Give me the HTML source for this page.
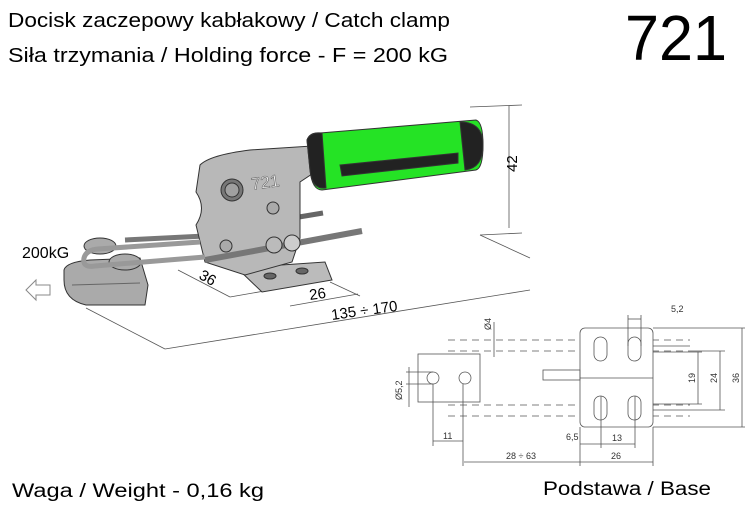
<!DOCTYPE html>
<html><head><style>
html,body{margin:0;padding:0;background:#fff;}
svg{display:block;font-family:"Liberation Sans",sans-serif;}
</style></head><body>
<svg width="750" height="517" viewBox="0 0 750 517" xmlns="http://www.w3.org/2000/svg">
<rect width="750" height="517" fill="#fff"/>
<text x="8" y="27" font-size="20" textLength="442" lengthAdjust="spacingAndGlyphs">Docisk zaczepowy kabłakowy / Catch clamp</text>
<text x="8" y="62" font-size="20" textLength="440" lengthAdjust="spacingAndGlyphs">Siła trzymania / Holding force - F = 200 kG</text>
<text x="625" y="60" font-size="64" textLength="102" lengthAdjust="spacingAndGlyphs">721</text>

<g stroke="#555" stroke-width="0.8" fill="none">
<line x1="470" y1="107" x2="522" y2="105"/>
<line x1="480" y1="235" x2="522" y2="233"/>
<line x1="509" y1="106" x2="509" y2="228"/>
<line x1="480" y1="235" x2="530" y2="258"/>
<line x1="165" y1="349" x2="530" y2="290"/>
<line x1="86" y1="308" x2="165" y2="349"/>
<line x1="178" y1="270" x2="230" y2="297"/>
<line x1="230" y1="297" x2="270" y2="290"/>
<line x1="330" y1="282" x2="360" y2="296"/>
<line x1="290" y1="306" x2="358" y2="294"/>
</g>
<text x="517" y="172" font-size="15" transform="rotate(-90 517 172)">42</text>
<text x="198" y="278" font-size="15" transform="rotate(30 198 278)">36</text>
<text x="310" y="300" font-size="15" transform="rotate(-8 310 300)">26</text>
<text x="332" y="320" font-size="15" transform="rotate(-8 332 320)">135 ÷ 170</text>
<text x="22" y="258" font-size="16">200kG</text>
<path d="M26 290 L36 280 L36 285 L50 285 L50 295 L36 295 L36 300 Z" fill="#fff" stroke="#888"/>

<g stroke="#333" stroke-width="1">
<!-- rods behind -->
<line x1="293" y1="218" x2="323" y2="213" stroke="#666" stroke-width="5"/>
<path d="M125 240 L205 236" fill="none" stroke="#777" stroke-width="5"/>
<!-- base foot -->
<path d="M237 268 L325 262 L332 280 L262 292 Z" fill="#bbb"/>
<ellipse cx="270" cy="276" rx="6" ry="3" fill="#666"/>
<ellipse cx="302" cy="271" rx="6" ry="3" fill="#666"/>
<!-- body -->
<path d="M200 165 Q210 155 250 150 L312 146 L318 170 L300 182 L300 238 L292 262 L245 275 L205 262 L196 225 Q207 208 196 192 Z" fill="#b8b8b8"/>
<circle cx="232" cy="190" r="11" fill="#777"/>
<circle cx="232" cy="190" r="7" fill="#a0a0a0"/>
<circle cx="273" cy="208" r="6" fill="#aaa"/>
<circle cx="226" cy="246" r="6" fill="#aaa"/>
<!-- handle -->
<path d="M307 140 Q310 132 320 133 L476 120 Q483 122 483 145 Q483 168 476 170 L322 190 Q312 190 310 170 Z" fill="#25e325"/>
<path d="M340 165 L458 153 L458 163 L342 176 Z" fill="#222"/>
<path d="M460 122 Q483 122 483 145 Q483 168 465 170 Z" fill="#222"/>
<path d="M307 140 Q310 132 322 133 L326 188 Q312 190 310 170 Z" fill="#222"/>
<!-- latch hook -->
<path d="M64 270 Q66 262 90 260 L140 258 L148 285 L145 305 L86 305 Q64 300 64 280 Z" fill="#aaa"/>
<path d="M72 285 L140 283" stroke="#666" fill="none"/>
<ellipse cx="100" cy="246" rx="16" ry="8" fill="#aaa"/>
<ellipse cx="125" cy="262" rx="16" ry="8" fill="#aaa"/>
<!-- threaded rod -->
<line x1="205" y1="260" x2="362" y2="231" stroke="#777" stroke-width="6"/>
<!-- bail -->
<path d="M205 257 L95 266 Q82 268 84 258 Q86 250 98 249 L200 242" fill="none" stroke="#999" stroke-width="5"/>
<circle cx="292" cy="243" r="8" fill="#ccc"/>
<circle cx="274" cy="245" r="8" fill="#bbb"/>
</g>
<text x="252" y="190" font-size="17" fill="#fff" stroke="#666" stroke-width="0.6" transform="rotate(-8 252 190)">721</text>

<g stroke="#555" stroke-width="0.8" fill="none">
<g stroke-dasharray="7 5">
<line x1="448" y1="340" x2="690" y2="340"/>
<line x1="448" y1="351" x2="690" y2="351"/>
<line x1="448" y1="405" x2="690" y2="405"/>
<line x1="448" y1="416" x2="690" y2="416"/>
</g>
<rect x="580" y="328" width="73" height="99" rx="5" fill="#fff"/>
<rect x="418" y="354" width="62" height="48" fill="#fff"/>
<rect x="543" y="370" width="37" height="10"/>
<line x1="580" y1="378" x2="653" y2="378"/>
<circle cx="433" cy="378" r="6"/><circle cx="465" cy="378" r="6"/>
<rect x="594" y="337" width="13" height="24" rx="6.5"/>
<rect x="628" y="337" width="13" height="24" rx="6.5"/>
<rect x="594" y="396" width="13" height="24" rx="6.5"/>
<rect x="628" y="396" width="13" height="24" rx="6.5"/>
<line x1="653" y1="346" x2="690" y2="346"/>
<line x1="653" y1="410" x2="690" y2="410"/>
<line x1="653" y1="328" x2="745" y2="328"/>
<line x1="653" y1="427" x2="745" y2="427"/>
<line x1="742" y1="328" x2="742" y2="427"/>
<line x1="690" y1="351" x2="725" y2="351"/>
<line x1="690" y1="410" x2="725" y2="410"/>
<line x1="720" y1="351" x2="720" y2="410"/>
<line x1="653" y1="352" x2="702" y2="352"/>
<line x1="653" y1="404" x2="702" y2="404"/>
<line x1="698" y1="352" x2="698" y2="404"/>
<line x1="628" y1="315" x2="628" y2="346"/>
<line x1="641" y1="315" x2="641" y2="346"/>
<line x1="628" y1="319" x2="641" y2="319"/>
<line x1="494" y1="322" x2="494" y2="357"/>
<line x1="406" y1="372" x2="433" y2="372"/>
<line x1="406" y1="384" x2="433" y2="384"/>
<line x1="409" y1="367" x2="409" y2="407"/>
<line x1="433" y1="384" x2="433" y2="446"/>
<line x1="463" y1="384" x2="463" y2="466"/>
<line x1="433" y1="441" x2="463" y2="441"/>
<line x1="580" y1="427" x2="580" y2="466"/>
<line x1="653" y1="427" x2="653" y2="466"/>
<line x1="601" y1="396" x2="601" y2="448"/>
<line x1="635" y1="396" x2="635" y2="448"/>
<line x1="580" y1="444" x2="635" y2="444"/>
<line x1="464" y1="462" x2="653" y2="462"/>
</g>
<g font-size="9" fill="#333">
<text x="671" y="312">5,2</text>
<text x="491" y="330" transform="rotate(-90 491 330)">Ø4</text>
<text x="402" y="400" transform="rotate(-90 402 400)">Ø5,2</text>
<text x="695" y="383" transform="rotate(-90 695 383)">19</text>
<text x="717" y="383" transform="rotate(-90 717 383)">24</text>
<text x="739" y="383" transform="rotate(-90 739 383)">36</text>
<text x="443" y="439">11</text>
<text x="566" y="440">6,5</text>
<text x="612" y="441">13</text>
<text x="506" y="459">28 ÷ 63</text>
<text x="611" y="459">26</text>
</g>
<text x="12" y="497" font-size="19" textLength="252" lengthAdjust="spacingAndGlyphs">Waga / Weight - 0,16 kg</text>
<text x="543" y="495" font-size="19" textLength="168" lengthAdjust="spacingAndGlyphs">Podstawa / Base</text>
</svg>
</body></html>
